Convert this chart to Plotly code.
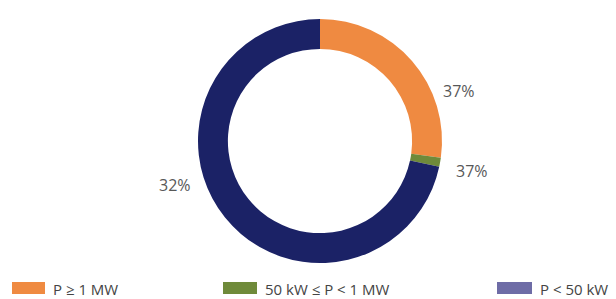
import plotly.graph_objects as go

# Data
categories = ["P ≥ 1 MW", "50 kW ≤ P < 1 MW", "P < 50 kW"]
shares = [27.2, 1.2, 71.6]          # slice sizes as drawn
labels = ["37%", "37%", "32%"]      # printed labels
colors = ["#EF8A41", "#6F8A3A", "#1B2266"]
legend_colors = ["#EF8A41", "#6F8A3A", "#6E6CA6"]

W, H = 616, 299

fig = go.Figure(go.Pie(
    values=shares,
    labels=categories,
    marker=dict(colors=colors, line=dict(width=0)),
    hole=0.755,
    sort=False,
    direction="clockwise",
    rotation=0,
    textinfo="none",
    hoverinfo="label+percent",
    domain=dict(x=[198 / W, 442 / W], y=[1 - 263 / H, 1 - 19 / H]),
    showlegend=False,
))

# slice labels
label_pos = [(459, 91), (472, 171), (175, 185)]
for txt, (px, py) in zip(labels, label_pos):
    fig.add_annotation(x=px / W, y=1 - py / H, xref="paper", yref="paper",
                       xanchor="center", yanchor="middle",
                       text=txt, showarrow=False,
                       font=dict(family="Open Sans", size=16, color="#585858"))

# custom legend
leg_boxes = [(12, 45), (223, 257), (497, 532)]
for cat, col, (x0, x1) in zip(categories, legend_colors, leg_boxes):
    fig.add_shape(type="rect", xref="paper", yref="paper",
                  x0=x0 / W, x1=x1 / W, y0=1 - 294 / H, y1=1 - 282 / H,
                  fillcolor=col, line=dict(width=0))
    fig.add_annotation(x=(x1 + 6) / W, y=1 - 289 / H, xref="paper", yref="paper",
                       xanchor="left", yanchor="middle", text=cat, showarrow=False,
                       font=dict(family="Open Sans", size=15, color="#444444"))

fig.update_layout(width=W, height=H, margin=dict(l=0, r=0, t=0, b=0),
                  paper_bgcolor="white", plot_bgcolor="white")
fig.write_html("out.html", config={"displayModeBar": False},
               post_script="document.body.style.margin='0';document.body.style.overflow='hidden';")
